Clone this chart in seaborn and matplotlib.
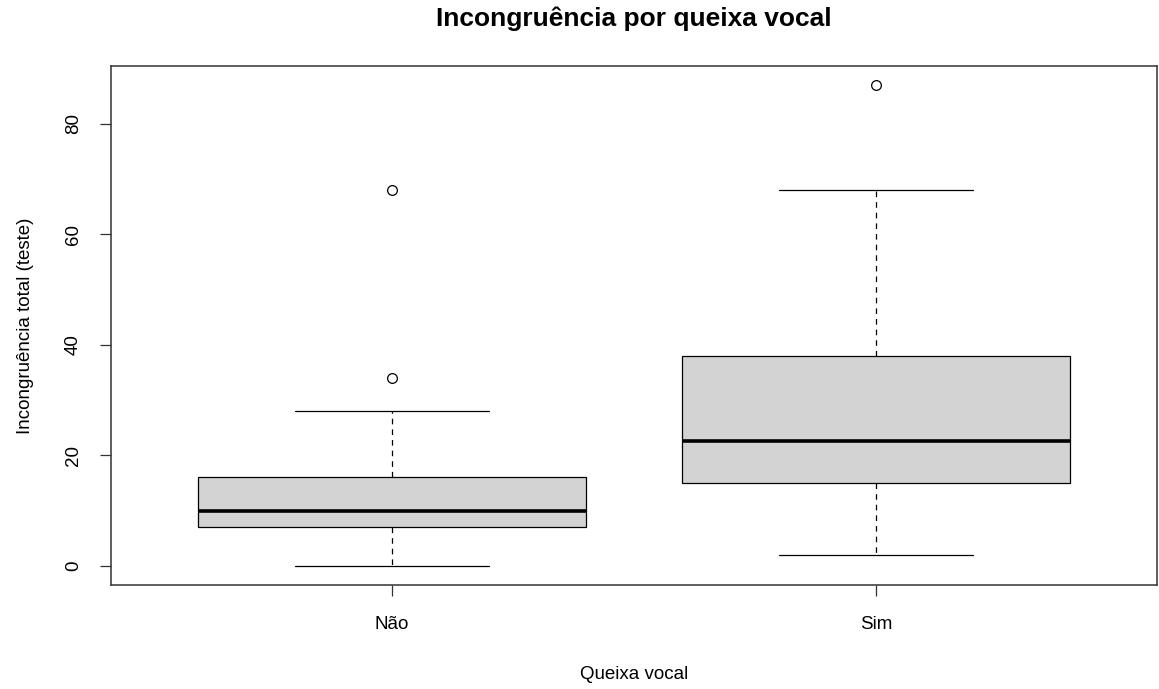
import matplotlib
matplotlib.use("Agg")
import matplotlib.pyplot as plt
import pandas as pd
import seaborn as sns

# Summary of "Incongruência total (teste)" per group
categories = ["Não", "Sim"]
whisker_low = [0, 2]
q1 = [7, 15]
median = [10, 22.5]
q3 = [16, 38]
whisker_high = [28, 68]
outliers = [[34, 68], [87]]

y_ticks = [0, 20, 40, 60, 80]


def sample_from_summary(lo, a, m, b, tail):
    """Observations whose quartiles/whiskers reproduce the summary (n = 4k + 1)."""
    k = len(tail)
    return [lo] + [a] * k + [m] * k + [b] * k + tail


rows = []
for i, cat in enumerate(categories):
    vals = sample_from_summary(whisker_low[i], q1[i], median[i], q3[i],
                               [whisker_high[i]] + outliers[i])
    rows += [(cat, v) for v in vals]
df = pd.DataFrame(rows, columns=["Queixa vocal", "Incongruência total (teste)"])

sns.set_theme(style="ticks")
plt.rcParams["font.family"] = ["Liberation Sans", "DejaVu Sans"]
plt.rcParams["text.color"] = "black"
plt.rcParams["axes.labelcolor"] = "black"

fig = plt.figure(figsize=(11.59, 6.89), dpi=100)
ax = fig.add_axes([111 / 1159, 1 - 585 / 689, (1157 - 111) / 1159, (585 - 66) / 689])

sns.boxplot(
    data=df, x="Queixa vocal", y="Incongruência total (teste)",
    order=categories, ax=ax, width=0.8, whis=1.5,
    color="#D3D3D3", saturation=1, linecolor="black", linewidth=0.9,
    medianprops=dict(color="black", linewidth=2.6),
    whiskerprops=dict(color="black", linewidth=0.9, linestyle=(0, (4.5, 4))),
    capprops=dict(color="black", linewidth=0.9),
    flierprops=dict(marker="o", markersize=7, markerfacecolor="none",
                    markeredgecolor="black", markeredgewidth=0.9),
)

ax.set_xlim(-0.58, 1.58)
ax.set_ylim(-3.48, 90.48)
ax.set_yticks(y_ticks)
ax.set_yticklabels([str(t) for t in y_ticks], rotation=90, va="center")

for side in ["top", "right", "left", "bottom"]:
    ax.spines[side].set_visible(True)
    ax.spines[side].set_color("#333333")
    ax.spines[side].set_linewidth(1.1)

ax.tick_params(axis="both", length=8, width=0.9, color="#333333",
               labelsize=13.5, labelcolor="black")
ax.tick_params(axis="x", pad=14)
ax.tick_params(axis="y", pad=13)

ax.set_xlabel("Queixa vocal", fontsize=13.5, labelpad=24, color="black")
ax.set_ylabel("Incongruência total (teste)", fontsize=13.5, labelpad=22, color="black")

# Title centred over the plotting region
cx = (111 + 1157) / 2 / 1159
fig.text(cx, 1 - 19 / 689, "Incongruência por queixa vocal",
         ha="center", va="center", fontsize=19, fontweight="bold", color="black")

fig.savefig("out.png", dpi=100, facecolor="white")
